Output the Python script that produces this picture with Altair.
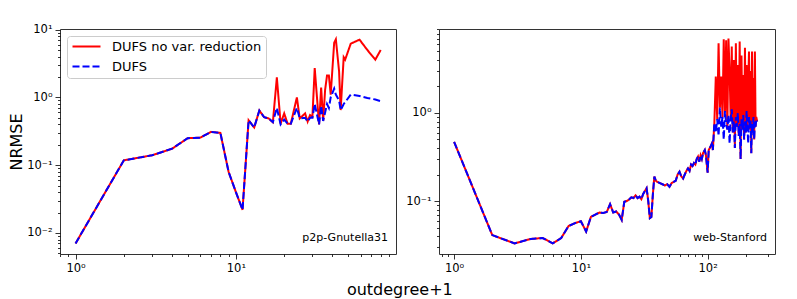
import altair as alt
import pandas as pd

# ---------------- data: p2p-Gnutella31 ----------------
gn_x = [1, 2, 3, 4, 5, 6, 7, 8, 9, 10, 11, 12, 13, 14, 15, 16, 17, 18, 19, 20, 21,
        22, 24, 25, 27, 28, 29, 30, 31, 33, 34, 35, 36, 37, 38, 39, 41, 42, 44, 45,
        47, 48, 52, 59, 66, 74, 80]
gn_novr = [0.007, 0.118, 0.14, 0.175, 0.25, 0.255, 0.31, 0.30, 0.08, 0.04, 0.022,
           0.46, 0.36, 0.64, 0.51, 0.49, 0.43, 1.97, 0.41, 0.58, 0.41,
           0.41, 1.0, 0.49, 0.58, 0.44, 0.55, 0.52, 2.7, 0.40, 1.4, 0.45, 1.3, 2.1,
           2.1, 1.1, 6.4, 7.2, 2.4, 0.65, 3.9, 3.6, 6.2, 7.1, 5.0, 3.6, 5.0]
gn_dufs = [0.007, 0.118, 0.14, 0.175, 0.25, 0.255, 0.31, 0.30, 0.08, 0.04, 0.022,
           0.46, 0.36, 0.64, 0.51, 0.49, 0.43, 0.70, 0.40, 0.47, 0.41,
           0.41, 0.7, 0.49, 0.5, 0.44, 0.5, 0.5, 0.8, 0.40, 0.75, 0.45, 0.6, 0.8,
           0.7, 1.0, 1.35, 1.1, 0.9, 0.65, 0.8, 0.85, 1.1, 1.05, 0.98, 0.93, 0.88]

# ---------------- data: web-Stanford ----------------
st_x = [1, 2, 3, 4, 5, 6, 7, 8, 9, 10, 11, 12, 13, 14, 15, 16, 17, 18, 19, 20,
        21, 22, 23, 24, 25, 26, 27, 28, 29, 30, 31, 32, 33, 34, 35, 36, 37, 38, 39,
        40, 42, 44, 46, 48, 50, 52, 54, 56, 58, 60, 62, 64, 66, 68, 70, 72, 74, 76,
        78, 80, 82, 84, 86, 88, 90, 92, 95, 97, 100, 102, 105, 108, 110,
        113, 116, 119, 122, 125, 128, 131, 134, 137, 140, 143, 146, 149, 152, 155,
        158, 161, 164, 167, 170, 173, 176, 179, 182, 185, 188, 191, 194, 197, 200,
        203, 206, 209, 212, 215, 218, 221, 224, 227, 230, 233, 236, 239, 242, 246]
st_low = [0.47, 0.041, 0.033, 0.037, 0.038, 0.033, 0.038, 0.052, 0.056, 0.059,
          0.045, 0.066, 0.07, 0.074, 0.073, 0.075, 0.092, 0.074, 0.076, 0.07,
          0.061, 0.098, 0.1, 0.104, 0.11, 0.108, 0.116, 0.108, 0.112, 0.105, 0.12,
          0.13, 0.14, 0.1, 0.064, 0.066, 0.12, 0.19, 0.17,
          0.165, 0.16, 0.155, 0.15, 0.155, 0.145, 0.16, 0.165, 0.17, 0.2, 0.215,
          0.19, 0.18, 0.2, 0.22, 0.235, 0.22, 0.26, 0.25, 0.27, 0.26, 0.3, 0.32,
          0.28, 0.33, 0.3, 0.35, 0.38, 0.33, 0.21, 0.38, 0.41, 0.45, 0.38]
st_high_dufs = [0.77, 0.6, 0.85, 0.55, 1.15, 0.7, 0.9, 0.5, 1.05, 0.75, 0.65, 0.95,
                0.45, 0.85, 1.1, 0.6, 0.8, 0.4, 0.9, 0.7, 1.0, 0.55, 0.75, 0.3,
                0.85, 0.65, 0.95, 0.5, 0.8, 0.6, 1.05, 0.7, 0.45, 0.9, 0.65, 0.85,
                0.35, 0.75, 0.6, 0.9, 0.5, 0.8, 0.7, 0.85, 0.8]
st_high_novr = [0.77, 2.6, 0.85, 6.2, 1.15, 2.6, 0.9, 6.9, 1.05, 6.7, 0.65, 7.0,
                3.0, 0.85, 5.7, 0.6, 4.0, 0.4, 6.2, 0.7, 3.5, 0.55, 6.5, 0.3,
                4.5, 0.65, 2.7, 0.5, 5.5, 0.6, 3.5, 0.7, 2.0, 5.0, 0.65, 3.0,
                0.35, 5.0, 0.6, 2.5, 0.5, 5.0, 0.7, 0.9, 0.8]
st_novr = st_low + st_high_novr
st_dufs = st_low + st_high_dufs

SERIES = ["DUFS no var. reduction", "DUFS"]
COLORS = ["#ff0000", "#0000ff"]
DASHES = [[1, 0], [7, 3]]

FONT = "DejaVu Sans"
W, H = 336, 225

LABEL_EXPR = ("datum.value == 1 ? '10⁰' : datum.value == 10 ? '10¹' : "
              "datum.value == 100 ? '10²' : abs(datum.value - 0.1) < 1e-9 ? '10⁻¹' : "
              "abs(datum.value - 0.01) < 1e-9 ? '10⁻²' : ''")
MAJOR_TEST = ("datum.value == 1 || datum.value == 10 || datum.value == 100 || "
              "abs(datum.value - 0.1) < 1e-9 || abs(datum.value - 0.01) < 1e-9")
TICK_SIZE = {"condition": {"test": MAJOR_TEST, "value": 5}, "value": 2.5}


def minor_ticks(lo, hi):
    vals = []
    for d in [0.001, 0.01, 0.1, 1, 10, 100]:
        for m in range(1, 10):
            v = round(m * d, 6)
            if lo <= v <= hi:
                vals.append(v)
    return vals


def make_axis(lo, hi, title=None):
    kw = dict(values=minor_ticks(lo, hi), labelExpr=LABEL_EXPR, tickSize=TICK_SIZE,
              grid=False, domain=False, tickColor="black", tickWidth=0.8,
              labelColor="black", labelFont=FONT, labelFontSize=11.5,
              labelPadding=3, labelOverlap=False, labelFlush=False, labelBound=False)
    if title:
        kw.update(title=title, titleFont=FONT, titleFontSize=16,
                  titleFontWeight="normal", titleColor="black", titlePadding=2)
    else:
        kw.update(title=None)
    return alt.Axis(**kw)


def panel(xs, novr, dufs, xdom, ydom, name, ytitle, show_legend):
    rows = []
    for s, vals in zip(SERIES, [novr, dufs]):
        for x, v in zip(xs, vals):
            rows.append({"x": x, "v": v, "series": s})
    df = pd.DataFrame(rows)
    if show_legend:
        legend = alt.Legend(orient="none", legendX=7, legendY=7, title=None,
                            fillColor="white", strokeColor="#cccccc", cornerRadius=3,
                            padding=4, labelFont=FONT, labelFontSize=13,
                            labelColor="black", symbolType="M-1,0H4.6",
                            symbolSize=100, symbolStrokeWidth=2, labelOffset=28,
                            rowPadding=6)
    else:
        legend = None
    lines = alt.Chart(df).mark_line(strokeWidth=2, clip=True).encode(
        x=alt.X("x:Q", scale=alt.Scale(type="log", domain=xdom, nice=False),
                axis=make_axis(xdom[0], xdom[1])),
        y=alt.Y("v:Q", scale=alt.Scale(type="log", domain=ydom, nice=False),
                axis=make_axis(ydom[0], ydom[1], ytitle)),
        color=alt.Color("series:N", scale=alt.Scale(domain=SERIES, range=COLORS),
                        legend=legend),
        strokeDash=alt.StrokeDash("series:N", scale=alt.Scale(domain=SERIES, range=DASHES),
                                  legend=legend),
    )
    label = alt.Chart(pd.DataFrame({"t": [name]})).mark_text(
        align="right", baseline="alphabetic", font=FONT, fontSize=11, color="black"
    ).encode(text="t:N", x=alt.value(W - 8), y=alt.value(H - 13))
    return alt.layer(lines, label).properties(width=W, height=H)


left = panel(gn_x, gn_novr, gn_dufs, [0.80, 99.6], [0.0049, 10.2], "p2p-Gnutella31",
             "NRMSE", True)
right = panel(st_x, st_novr, st_dufs, [0.76, 340], [0.025, 9.0], "web-Stanford",
              None, False)

chart = alt.hconcat(left, right, spacing=8).resolve_scale(
    color="independent", strokeDash="independent"
).resolve_legend(color="independent", strokeDash="independent").properties(
    title=alt.TitleParams("outdegree+1", orient="bottom", anchor="middle",
                          font=FONT, fontSize=16, fontWeight="normal", color="black",
                          offset=8, dx=8),
    padding={"left": 0, "top": 14, "right": 5, "bottom": 5},
).configure_view(stroke="#333333", strokeWidth=1)

chart.save("out.html", embed_options={"renderer": "svg", "actions": False})
